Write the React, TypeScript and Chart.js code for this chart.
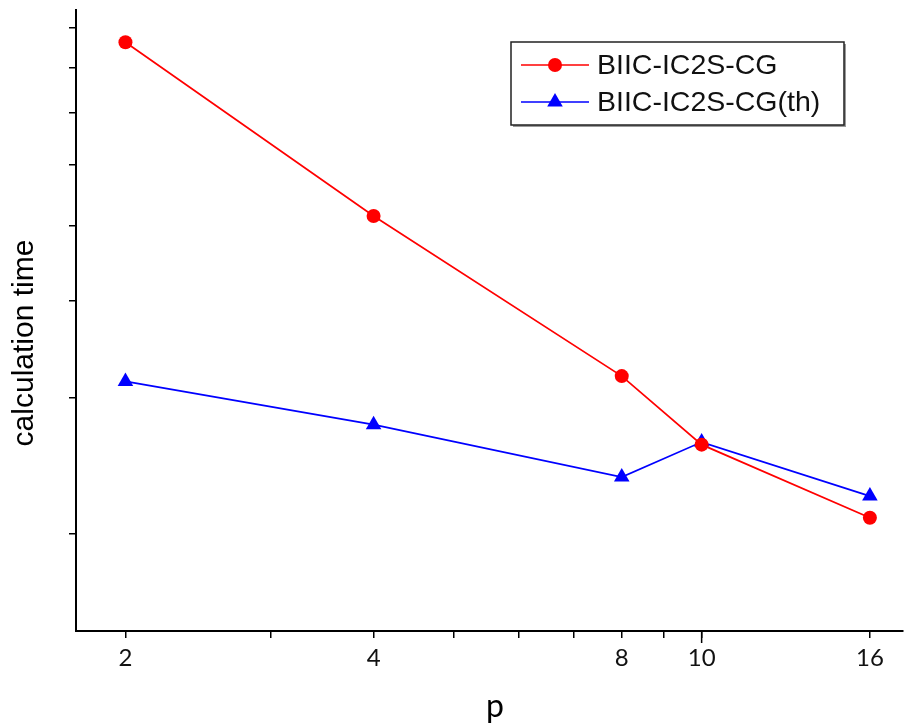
import { useEffect, useRef } from 'react';
import { Chart, registerables } from 'chart.js';

Chart.register(...registerables);

const pValues = [2, 4, 8, 10, 16];
const seriesCG = [8.63, 5.15, 3.2, 2.61, 2.1];
const seriesCGth = [3.15, 2.77, 2.37, 2.63, 2.24];
const seriesNames = ['BIIC-IC2S-CG', 'BIIC-IC2S-CG(th)'];
const xTickValues = [2, 3, 4, 5, 6, 7, 8, 9, 10, 16];
const xLabelValues = [2, 4, 8, 10, 16];
const yTickValues = [2, 3, 4, 5, 6, 7, 8, 9];
const xTitle = 'p';
const yTitle = 'calculation time';

const overlay = {
  id: 'overlay',
  afterDraw(chart: any) {
    const ctx = chart.ctx;
    ctx.save();
    // longer major tick at 10
    const xs = chart.scales.x;
    const x10 = xs.getPixelForValue(10);
    ctx.strokeStyle = '#000';
    ctx.lineWidth = 1.5;
    ctx.beginPath();
    ctx.moveTo(x10, chart.chartArea.bottom);
    ctx.lineTo(x10, chart.chartArea.bottom + 12);
    ctx.stroke();

    // y title
    ctx.fillStyle = '#000';
    ctx.font = '30px "Liberation Sans", Arial, sans-serif';
    ctx.textAlign = 'center';
    ctx.textBaseline = 'alphabetic';
    ctx.save();
    ctx.translate(33, 343);
    ctx.rotate(-Math.PI / 2);
    ctx.fillText(yTitle, 0, 0);
    ctx.restore();

    // x title
    ctx.font = '32px Lato, "Open Sans", sans-serif';
    ctx.fillText(xTitle, 495, 717);

    // legend
    const bx = 511, by = 42, bw = 333, bh = 83;
    ctx.fillStyle = '#9a9a9a';
    ctx.fillRect(bx + 2, by + bh, bw, 2);
    ctx.fillRect(bx + bw, by + 2, 2, bh);
    ctx.fillStyle = '#fff';
    ctx.fillRect(bx, by, bw, bh);
    ctx.strokeStyle = '#222';
    ctx.lineWidth = 1.5;
    ctx.strokeRect(bx, by, bw, bh);

    const rows = [65, 102];
    chart.data.datasets.forEach((ds: any, i: number) => {
      const y = rows[i];
      ctx.strokeStyle = ds.borderColor;
      ctx.lineWidth = 1.5;
      ctx.beginPath();
      ctx.moveTo(521, y);
      ctx.lineTo(589, y);
      ctx.stroke();
      ctx.fillStyle = ds.pointBackgroundColor;
      ctx.beginPath();
      if (ds.pointStyle === 'triangle') {
        const r = 9;
        ctx.moveTo(555, y - r);
        ctx.lineTo(555 + r * Math.sin(Math.PI / 3), y + r / 2);
        ctx.lineTo(555 - r * Math.sin(Math.PI / 3), y + r / 2);
        ctx.closePath();
      } else {
        ctx.arc(555, y, 7, 0, Math.PI * 2);
      }
      ctx.fill();
      ctx.fillStyle = '#111';
      ctx.font = '28.5px "Liberation Sans", Arial, sans-serif';
      ctx.textAlign = 'left';
      ctx.textBaseline = 'middle';
      ctx.fillText(ds.label, 597, y + 1);
    });
    ctx.restore();
  },
};

export default function App() {
  const ref = useRef<HTMLCanvasElement>(null);
  useEffect(() => {
    if (!ref.current) return;
    const chart = new Chart(ref.current, {
      type: 'line',
      data: {
        datasets: [
          {
            label: seriesNames[0],
            data: pValues.map((p, i) => ({ x: p, y: seriesCG[i] })),
            borderColor: '#ff0000',
            backgroundColor: '#ff0000',
            pointBackgroundColor: '#ff0000',
            pointBorderColor: '#ff0000',
            pointStyle: 'circle',
            pointRadius: 7,
            borderWidth: 1.7,
            pointBorderWidth: 0,
          },
          {
            label: seriesNames[1],
            data: pValues.map((p, i) => ({ x: p, y: seriesCGth[i] })),
            borderColor: '#0000ff',
            backgroundColor: '#0000ff',
            pointBackgroundColor: '#0000ff',
            pointBorderColor: '#0000ff',
            pointStyle: 'triangle',
            pointRadius: 9,
            borderWidth: 1.7,
            pointBorderWidth: 0,
          },
        ],
      },
      options: {
        responsive: false,
        animation: false,
        layout: { autoPadding: false, padding: { left: 0, right: 2, top: 10, bottom: 0 } },
        plugins: { legend: { display: false }, tooltip: { enabled: false } },
        scales: {
          x: {
            type: 'logarithmic',
            min: 1.742,
            max: 17.55,
            afterBuildTicks: (s: any) => {
              s.ticks = xTickValues.map((v) => ({ value: v }));
            },
            afterFit: (s: any) => {
              s.height = 96;
              s.paddingLeft = 0;
              s.paddingRight = 0;
            },
            ticks: {
              autoSkip: false,
              maxRotation: 0,
              padding: 6,
              color: '#111',
              font: { family: 'Lato, "Open Sans", sans-serif', size: 24 },
              callback: (v: any) => (xLabelValues.includes(Number(v)) ? String(v) : ''),
            },
            grid: { drawOnChartArea: false, drawTicks: true, tickLength: 7, color: '#000', lineWidth: 1.5 },
            border: { display: true, color: '#000', width: 2 },
          },
          y: {
            type: 'logarithmic',
            min: 1.5,
            max: 9.5,
            afterBuildTicks: (s: any) => {
              s.ticks = yTickValues.map((v) => ({ value: v }));
            },
            afterFit: (s: any) => {
              s.width = 76;
              s.paddingTop = 0;
              s.paddingBottom = 0;
            },
            ticks: { callback: () => '', padding: 0 },
            grid: { drawOnChartArea: false, drawTicks: true, tickLength: 7, color: '#000', lineWidth: 1.5 },
            border: { display: true, color: '#000', width: 2 },
          },
        },
      },
      plugins: [overlay],
    });
    return () => chart.destroy();
  }, []);
  return (
    <div style={{ position: 'absolute', left: 0, top: 0, width: 905, height: 727, background: '#fff' }}>
      <canvas ref={ref} width={905} height={727} />
    </div>
  );
}
